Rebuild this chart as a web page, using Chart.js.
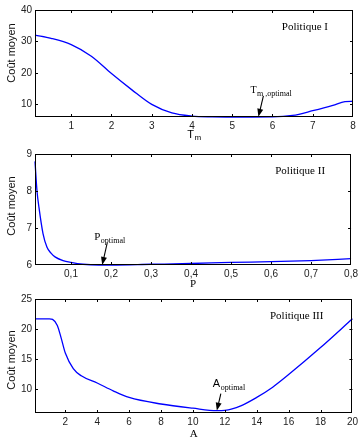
<!DOCTYPE html>
<html>
<head>
<meta charset="utf-8">
<script src="https://cdn.jsdelivr.net/npm/chart.js@4.4.1/dist/chart.umd.min.js"></script>
<style>
    html, body { margin: 0; padding: 0; background: #fff; }
    #page { position: relative; width: 361px; height: 438px; overflow: hidden; }
    canvas { position: absolute; left: 0; }
</style>
</head>
<body>
<div id="page">
    <canvas id="g1" width="361" height="142" style="top:0px"></canvas>
    <canvas id="g2" width="361" height="148" style="top:142px"></canvas>
    <canvas id="g3" width="361" height="148" style="top:290px"></canvas>
</div>
<script>
// Politique I : cout moyen en fonction de Tm
const tmX = [0.1, 0.5, 1.0, 1.5, 2.0, 2.5, 3.0, 3.5, 4.0, 4.5, 5.0, 5.5, 6.0, 6.5, 7.0, 7.5, 7.8, 8.0];
const tmY = [32.0, 31.0, 29.0, 25.3, 19.8, 14.7, 10.0, 7.3, 6.3, 6.05, 6.0, 6.0, 6.02, 6.5, 8.0, 9.7, 10.9, 11.0];
const tmTicksX = [1, 2, 3, 4, 5, 6, 7, 8];
const tmTicksY = [10, 20, 30, 40];
const tmOptimal = { x: 5.65, y: 6.05 };

// Politique II : cout moyen en fonction de P
const pX = [0.01, 0.015, 0.02, 0.03, 0.04, 0.05, 0.06, 0.08, 0.1, 0.13, 0.17, 0.2, 0.3, 0.4, 0.5, 0.6, 0.7, 0.8];
const pY = [8.8, 8.0, 7.55, 6.85, 6.48, 6.32, 6.22, 6.12, 6.07, 6.02, 6.0, 6.0, 6.02, 6.04, 6.07, 6.09, 6.12, 6.17];
const pTicksX = [0.1, 0.2, 0.3, 0.4, 0.5, 0.6, 0.7, 0.8];
const pTicksY = [6, 7, 8, 9];
const pOptimal = { x: 0.178, y: 6.0 };

// Politique III : cout moyen en fonction de A
const aX = [0.1, 1.0, 1.2, 1.5, 1.75, 2.0, 2.5, 3.0, 4.0, 5.0, 6.0, 8.0, 10.0, 11.5, 12.0, 13.0, 14.0, 15.0, 16.0, 18.0, 20.0];
const aY = [21.7, 21.7, 21.6, 20.6, 18.4, 16.0, 13.4, 12.2, 11.0, 9.7, 8.6, 7.5, 6.8, 6.4, 6.45, 7.2, 8.6, 10.3, 12.4, 16.9, 21.7];
const aTicksX = [2, 4, 6, 8, 10, 12, 14, 16, 18, 20];
const aTicksY = [10, 15, 20, 25];
const aOptimal = { x: 11.5, y: 6.4 };

const SANS = "'Liberation Sans', Arial, sans-serif";
const SERIF = "'Liberation Serif', 'Times New Roman', serif";

// dessine un texte avec indice
function texteIndice(ctx, x, y, main, sub, mainFont, subFont, subDy, align) {
    ctx.font = mainFont;
    const w1 = ctx.measureText(main).width;
    ctx.font = subFont;
    const w2 = ctx.measureText(sub).width;
    let x0 = x;
    if (align === "center") x0 = x - (w1 + w2) / 2;
    ctx.textAlign = "left";
    ctx.textBaseline = "alphabetic";
    ctx.font = mainFont;
    ctx.fillText(main, x0, y);
    ctx.font = subFont;
    ctx.fillText(sub, x0 + w1 + 0.5, y + subDy);
}

const decor = {
    id: "decor",
    afterDraw(chart, args, o) {
        const ctx = chart.ctx;
        const area = chart.chartArea;
        const xs = chart.scales.x;
        const ys = chart.scales.y;
        ctx.save();
        ctx.strokeStyle = "#000";
        ctx.fillStyle = "#000";
        ctx.lineWidth = 1;

        // cadre
        ctx.strokeRect(Math.round(area.left) + 0.5, Math.round(area.top) + 0.5,
            Math.round(area.right - area.left) - 1, Math.round(area.bottom - area.top) - 1);

        // graduations vers l'intérieur
        ctx.beginPath();
        xs.ticks.forEach(t => {
            const px = Math.round(xs.getPixelForValue(t.value)) + 0.5;
            if (px < area.left + 2 || px > area.right - 2) return;
            ctx.moveTo(px, area.bottom);
            ctx.lineTo(px, area.bottom - 3);
            ctx.moveTo(px, area.top);
            ctx.lineTo(px, area.top + 3);
        });
        ys.ticks.forEach(t => {
            const py = Math.round(ys.getPixelForValue(t.value)) + 0.5;
            if (py < area.top + 2 || py > area.bottom - 2) return;
            ctx.moveTo(area.left, py);
            ctx.lineTo(area.left + 3, py);
            ctx.moveTo(area.right, py);
            ctx.lineTo(area.right - 3, py);
        });
        ctx.stroke();

        // titre de la politique
        ctx.font = "11px " + SERIF;
        ctx.textAlign = "right";
        ctx.textBaseline = "middle";
        ctx.fillText(o.titre, area.right - o.titreDx, area.top + 17.5);

        // flèche vers l'optimum
        const hx = xs.getPixelForValue(o.opt.x);
        const hy = ys.getPixelForValue(o.opt.y);
        const tx = hx + o.fleche[0];
        const ty = hy + o.fleche[1];
        const ang = Math.atan2(hy - ty, hx - tx);
        ctx.lineWidth = 1.1;
        ctx.beginPath();
        ctx.moveTo(tx, ty);
        ctx.lineTo(hx - 6 * Math.cos(ang), hy - 6 * Math.sin(ang));
        ctx.stroke();
        ctx.beginPath();
        ctx.moveTo(hx, hy);
        ctx.lineTo(hx - 8 * Math.cos(ang) + 3 * Math.sin(ang), hy - 8 * Math.sin(ang) - 3 * Math.cos(ang));
        ctx.lineTo(hx - 8 * Math.cos(ang) - 3 * Math.sin(ang), hy - 8 * Math.sin(ang) + 3 * Math.cos(ang));
        ctx.closePath();
        ctx.fill();

        // étiquette de l'optimum
        texteIndice(ctx, hx + o.etiq[0], hy + o.etiq[1], o.etiqMain, o.etiqSub,
            o.etiqFont, "8px " + SERIF, 3, "left");

        // titre de l'axe x
        texteIndice(ctx, (area.left + area.right) / 2, area.bottom + o.xLabDy, o.xMain, o.xSub,
            o.xFont, "8px " + SANS, 2, "center");

        // titre de l'axe y
        ctx.translate(12, o.yLabY);
        ctx.rotate(-Math.PI / 2);
        ctx.font = "11px " + SANS;
        ctx.fillStyle = "#111";
        ctx.textAlign = "center";
        ctx.textBaseline = "middle";
        ctx.fillText("Coût moyen", 0, 0);
        ctx.restore();
    }
};

function virgule(v) {
    return String(v).replace(".", ",");
}

function creerGraphique(id, xVals, yVals, ticksX, ticksY, xMin, xMax, yMin, yMax, haut, bas, deco) {
    const canvas = document.getElementById(id);
    const points = xVals.map((x, i) => ({ x: x, y: yVals[i] }));
    return new Chart(canvas, {
        type: "line",
        data: {
            datasets: [{
                data: points,
                borderColor: "#0000ff",
                borderWidth: 1.3,
                pointRadius: 0,
                fill: false,
                cubicInterpolationMode: "monotone",
                clip: 2
            }]
        },
        options: {
            responsive: false,
            animation: false,
            devicePixelRatio: 1,
            layout: { padding: { top: haut, right: 8, left: 0, bottom: 0 } },
            plugins: {
                legend: { display: false },
                tooltip: { enabled: false },
                decor: deco
            },
            scales: {
                x: {
                    type: "linear",
                    min: xMin,
                    max: xMax,
                    grid: { display: false, drawTicks: false },
                    border: { display: false },
                    afterBuildTicks: s => { s.ticks = ticksX.map(v => ({ value: v })); },
                    afterFit: s => { s.height = canvas.height - bas; },
                    ticks: {
                        callback: v => virgule(v),
                        color: "#222",
                        font: { family: SANS, size: 10 },
                        padding: 3,
                        maxRotation: 0,
                        autoSkip: false
                    }
                },
                y: {
                    type: "linear",
                    min: yMin,
                    max: yMax,
                    grid: { display: false, drawTicks: false },
                    border: { display: false },
                    afterBuildTicks: s => { s.ticks = ticksY.map(v => ({ value: v })); },
                    afterFit: s => { s.width = 35; },
                    ticks: {
                        callback: v => virgule(v),
                        color: "#222",
                        font: { family: SANS, size: 10 },
                        padding: 3
                    }
                }
            }
        },
        plugins: [decor]
    });
}

creerGraphique("g1", tmX, tmY, tmTicksX, tmTicksY, 0.1, 8, 6, 40, 10, 117, {
    titre: "Politique I", titreDx: 25, opt: tmOptimal,
    fleche: [5, -21], etiq: [-8, -24], etiqMain: "T", etiqSub: "m ,optimal", etiqFont: "10px " + SERIF,
    xMain: "T", xSub: "m", xFont: "11px " + SANS, xLabDy: 21, yLabY: 53
});

creerGraphique("g2", pX, pY, pTicksX, pTicksY, 0.01, 0.8, 6, 9, 12, 123, {
    titre: "Politique II", titreDx: 26, opt: pOptimal,
    fleche: [5, -22], etiq: [-8, -25], etiqMain: "P", etiqSub: "optimal", etiqFont: "11px " + SERIF,
    xMain: "P", xSub: "", xFont: "11px " + SERIF, xLabDy: 22, yLabY: 64
});

creerGraphique("g3", aX, aY, aTicksX, aTicksY, 0.1, 20, 6, 25, 6, 123, {
    titre: "Politique III", titreDx: 29, opt: aOptimal,
    fleche: [4, -17], etiq: [-4, -24], etiqMain: "A", etiqSub: "optimal", etiqFont: "11px " + SANS,
    xMain: "A", xSub: "", xFont: "11px " + SERIF, xLabDy: 24, yLabY: 70
});
</script>
</body>
</html>
